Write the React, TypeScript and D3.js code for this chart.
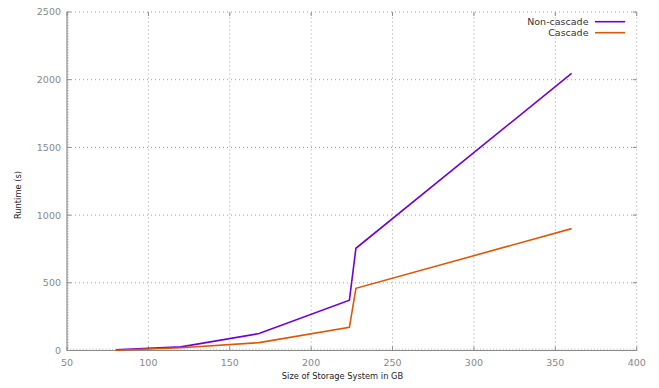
import React from "react";
import * as d3 from "d3";

const sizes = [80, 120, 168, 223.5, 227.5, 360];
const nonCascade = [5, 27, 125, 372, 755, 2047];
const cascade = [2, 20, 58, 171, 459, 900];
const xTicks = [50, 100, 150, 200, 250, 300, 350, 400];
const yTicks = [0, 500, 1000, 1500, 2000, 2500];
const seriesNames = ["Non-cascade", "Cascade"];
const seriesColors = ["#7000da", "#dc5808"];

const W = 659, H = 388;
const L = 67, R = 636.7, T = 12, B = 350.5;
const FONT = "DejaVu Sans, sans-serif";

export default function App() {
  const x = d3.scaleLinear().domain([50, 400]).range([L, R]);
  const y = d3.scaleLinear().domain([0, 2500]).range([B, T]);
  const line = d3.line<[number, number]>().x(d => x(d[0])).y(d => y(d[1]));
  const series = [nonCascade, cascade];
  const xMinor = d3.range(50, 401, 2);
  const yMinor = d3.range(0, 2501, 20);
  const tickColor = "#8a8a8a";
  return (
    <svg width={W} height={H} style={{ position: "absolute", left: 0, top: 0 }}>
      <rect width={W} height={H} fill="#fff" />
      {xTicks.slice(1).map(t => (
        <line key={"gx" + t} x1={x(t)} x2={x(t)} y1={B} y2={T} stroke="#a0a0a0" strokeWidth={1} strokeDasharray="1,3" />
      ))}
      {yTicks.slice(1).map(t => (
        <line key={"gy" + t} x1={L} x2={R} y1={y(t)} y2={y(t)} stroke="#a0a0a0" strokeWidth={1} strokeDasharray="1,3" />
      ))}
      {xMinor.map(t => (
        <line key={"mx" + t} x1={x(t)} x2={x(t)} y1={B} y2={B - 2} stroke="#b0b0b0" strokeWidth={0.6} />
      ))}
      {yMinor.map(t => (
        <line key={"my" + t} x1={L} x2={L + 2} y1={y(t)} y2={y(t)} stroke="#b0b0b0" strokeWidth={0.6} />
      ))}
      {xTicks.map(t => (
        <g key={"tx" + t}>
          <line x1={x(t)} x2={x(t)} y1={B} y2={B - 4} stroke={tickColor} />
          <line x1={x(t)} x2={x(t)} y1={T} y2={T + 4} stroke={tickColor} />
          <text x={x(t)} y={B + 15} textAnchor="middle" fontFamily={FONT} fontSize={9.5} fill="#888">{t}</text>
        </g>
      ))}
      {yTicks.map(t => (
        <g key={"ty" + t}>
          <line x1={L} x2={L + 4} y1={y(t)} y2={y(t)} stroke={tickColor} />
          <line x1={R} x2={R - 4} y1={y(t)} y2={y(t)} stroke={tickColor} />
          <text x={L - 6} y={y(t) + 3.4} textAnchor="end" fontFamily={FONT} fontSize={9.5} fill="#888">{t}</text>
        </g>
      ))}
      <line x1={L} x2={L} y1={T} y2={B} stroke={tickColor} strokeWidth={1.2} />
      <line x1={L} x2={R} y1={B} y2={B} stroke={tickColor} strokeWidth={1.2} />
      {series.map((s, i) => (
        <path key={"s" + i} d={line(sizes.map((v, j) => [v, s[j]] as [number, number])) || ""} fill="none" stroke={seriesColors[i]} strokeWidth={1.6} />
      ))}
      {seriesNames.map((n, i) => (
        <g key={"lg" + i}>
          <text x={588.5} y={21.7 + i * 11 + 3.4} textAnchor="end" fontFamily={FONT} fontSize={9.5} fill="#333">{n}</text>
          <line x1={595} x2={625} y1={21.7 + i * 11} y2={21.7 + i * 11} stroke={seriesColors[i]} strokeWidth={1.6} />
        </g>
      ))}
      <text x={342.5} y={379} textAnchor="middle" fontFamily={FONT} fontSize={8.3} fill="#222">Size of Storage System in GB</text>
      <text transform={`translate(21,${195}) rotate(-90)`} textAnchor="middle" fontFamily={FONT} fontSize={8.3} fill="#222">Runtime (s)</text>
    </svg>
  );
}
